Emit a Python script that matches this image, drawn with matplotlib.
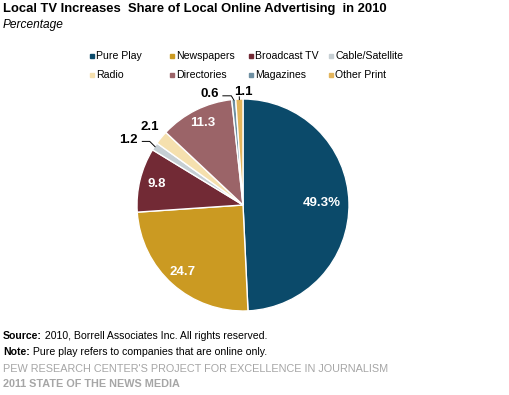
import matplotlib.pyplot as plt
from matplotlib.patches import Rectangle
import numpy as np

plt.rcParams['font.family'] = ['Liberation Sans', 'DejaVu Sans']

# data
categories = ['Pure Play', 'Newspapers', 'Broadcast TV', 'Cable/Satellite',
              'Radio', 'Directories', 'Magazines', 'Other Print']
values = [49.3, 24.7, 9.8, 1.2, 2.1, 11.3, 0.6, 1.1]
labels = ['49.3%', '24.7', '9.8', '1.2', '2.1', '11.3', '0.6', '1.1']
colors = ['#0b4a6a', '#cb9a22', '#722a35', '#c6cfd4',
          '#f5e0ae', '#9b6468', '#6e8fa2', '#e3b55c']

# label placement (inside: radial fraction, outside: text position + leader start in data units)
inside = {0: 0.74, 1: 0.85, 2: 0.84, 5: 0.86}
outside = {3: ((-1.085, 0.613), [(-0.95, 0.60), (-0.88, 0.60)]),
           4: ((-0.877, 0.736), None),
           6: ((-0.311, 1.047), [(-0.19, 1.03), (-0.11, 1.03)]),
           7: ((0.0, 1.066), [(-0.035, 1.02)])}

W, H = 509, 395
fig = plt.figure(figsize=(W / 100, H / 100), dpi=100)

cx, cy, r = 243, 205, 106
ax = fig.add_axes([(cx - r) / W, (H - cy - r) / H, 2 * r / W, 2 * r / H])
wedges, _ = ax.pie(values, colors=colors, startangle=90, counterclock=False,
                   wedgeprops=dict(edgecolor='white', linewidth=1))
ax.set_xlim(-1, 1)
ax.set_ylim(-1, 1)
ax.axis('off')

for i, w in enumerate(wedges):
    ang = np.deg2rad((w.theta1 + w.theta2) / 2)
    if i in inside:
        f = inside[i]
        ax.text(f * np.cos(ang), f * np.sin(ang), labels[i], color='white',
                fontsize=9.5, fontweight='bold', ha='center', va='center')
    else:
        (tx, ty), lead = outside[i]
        ax.text(tx, ty, labels[i], fontsize=9.5, fontweight='bold',
                ha='center', va='center')
        if lead:
            pts = lead + [(0.995 * np.cos(ang), 0.995 * np.sin(ang))]
            xs, ys = zip(*pts)
            ax.plot(xs, ys, color='black', lw=0.7, clip_on=False)

# legend drawn as two rows of four
leg_x = [90, 170, 249, 329]
leg_y = [56, 75]
for i, (name, c) in enumerate(zip(categories, colors)):
    x = leg_x[i % 4]
    y = leg_y[i // 4]
    fig.patches.append(Rectangle((x / W, (H - y - 2) / H), 4 / W, 4 / H,
                                 color=c, transform=fig.transFigure))
    fig.text((x + 6) / W, (H - y) / H, name, fontsize=7.6, va='center', ha='left')

# titles
fig.text(3 / W, 1 - 9 / H, 'Local TV Increases  Share of Local Online Advertising  in 2010',
         fontsize=9.4, fontweight='bold', va='center', ha='left')
fig.text(3 / W, 1 - 25 / H, 'Percentage', fontsize=8.6, style='italic',
         va='center', ha='left')

# footer
renderer = fig.canvas.get_renderer()
for y, head, rest in [(336, 'Source:', ' 2010, Borrell Associates Inc. All rights reserved.'),
                      (352, 'Note:', ' Pure play refers to companies that are online only.')]:
    t = fig.text(3 / W, 1 - y / H, head, fontsize=7.6, fontweight='bold',
                 va='center', ha='left')
    bb = t.get_window_extent(renderer)
    fig.text(bb.x1 / W, 1 - y / H, rest, fontsize=7.6, va='center', ha='left')
fig.text(3 / W, 1 - 369 / H, "PEW RESEARCH CENTER'S PROJECT FOR EXCELLENCE IN JOURNALISM",
         fontsize=7.8, color='#a6a6a6', va='center', ha='left')
fig.text(3 / W, 1 - 384 / H, '2011 STATE OF THE NEWS MEDIA',
         fontsize=7.8, color='#a6a6a6', fontweight='bold', va='center', ha='left')

fig.savefig('out.png', dpi=100, facecolor='white')
